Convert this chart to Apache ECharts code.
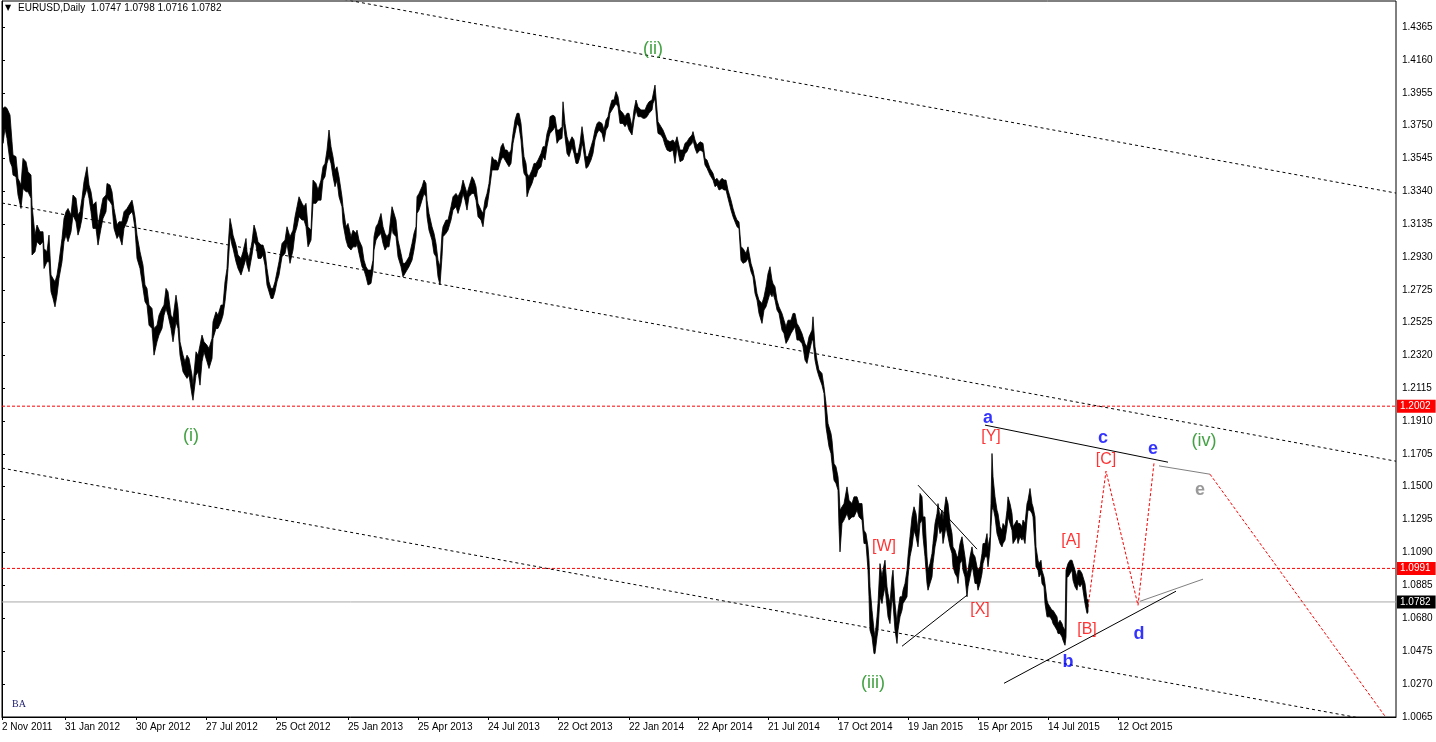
<!DOCTYPE html>
<html><head><meta charset="utf-8">
<script src="https://cdn.jsdelivr.net/npm/echarts@6/dist/echarts.min.js"></script>
<style>html,body{margin:0;padding:0;background:#fff}#c{width:1436px;height:742px}</style>
</head><body><div id="c"></div>
<script>
// ---------- header ----------
const symbolTitle = 'EURUSD,Daily';
const lastOHLC = ['1.0747', '1.0798', '1.0716', '1.0782'];

// ---------- axes ----------
// x = bar number counted from the first visible daily bar (2 Nov 2011)
const xTickIdx = [0, 63, 134, 204, 274, 346, 416, 486, 556, 627, 696, 766, 836, 906, 976, 1046, 1116];
const xTickLabels = ['2 Nov 2011', '31 Jan 2012', '30 Apr 2012', '27 Jul 2012', '25 Oct 2012', '25 Jan 2013',
  '25 Apr 2013', '24 Jul 2013', '22 Oct 2013', '22 Jan 2014', '22 Apr 2014', '21 Jul 2014', '17 Oct 2014',
  '19 Jan 2015', '15 Apr 2015', '14 Jul 2015', '12 Oct 2015'];
const yTickLabels = ['1.4365', '1.4160', '1.3955', '1.3750', '1.3545', '1.3340', '1.3135', '1.2930', '1.2725',
  '1.2525', '1.2320', '1.2115', '1.1910', '1.1705', '1.1500', '1.1295', '1.1090', '1.0885', '1.0680', '1.0475',
  '1.0270', '1.0065'];
const xMax = 1394;
const yMin = 1.0065, yMax = 1.4527;

// ---------- price bars [bar, high, low] ----------
const bars2011_2012 = [
[1,1.3858,1.3640],[3,1.3868,1.3733],[5,1.3858,1.3671],[8,1.3816,1.3525],[10,1.3650,1.3494],[11,1.3567,1.3442],
[14,1.3557,1.3432],[16,1.3422,1.3318],[19,1.3380,1.3234],[21,1.3546,1.3359],[24,1.3525,1.3338],[26,1.3463,1.3338],
[29,1.3442,1.3297],[30,1.3255,1.2944],[33,1.3068,1.2964],[35,1.3131,1.3027],[38,1.3089,1.3006],[41,1.3089,1.3027],
[42,1.2985,1.2860],[45,1.2964,1.2902],[47,1.3068,1.2902],[49,1.2819,1.2715],[51,1.2798,1.2673],[53,1.2777,1.2621],
[55,1.2819,1.2694],[57,1.2902,1.2798],[60,1.3047,1.2902],[62,1.3172,1.3027],[64,1.3214,1.3068],[66,1.3234,1.3027],
[69,1.3193,1.3089],[71,1.3318,1.3193],[74,1.3297,1.3151],[76,1.3193,1.3068],[78,1.3214,1.3110],[80,1.3297,1.3172],
[82,1.3401,1.3297],[85,1.3494,1.3359],[87,1.3380,1.3297],[89,1.3338,1.3214],[91,1.3255,1.3110],[94,1.3276,1.3110],
[96,1.3131,1.3006],[99,1.3234,1.3110],[101,1.3297,1.3172],[104,1.3318,1.3214],[105,1.3390,1.3297],[108,1.3380,1.3276],
[110,1.3338,1.3255],[112,1.3234,1.3110],[115,1.3131,1.3047],[117,1.3151,1.3068],[120,1.3151,1.3006],[122,1.3214,1.3110],
[125,1.3234,1.3151],[127,1.3255,1.3193],[130,1.3286,1.3214],[131,1.3255,1.3193],[133,1.3182,1.3110],[135,1.3068,1.2923],
[138,1.2964,1.2860],[141,1.2881,1.2736],[143,1.2757,1.2653],[145,1.2736,1.2632],[147,1.2632,1.2507],[150,1.2611,1.2486],
[152,1.2486,1.2320],[155,1.2507,1.2403],[157,1.2569,1.2445],[160,1.2611,1.2486],[162,1.2632,1.2569],[164,1.2736,1.2611],
[166,1.2715,1.2569],[169,1.2569,1.2486],[171,1.2549,1.2403],[174,1.2694,1.2528],[176,1.2611,1.2486],[178,1.2403,1.2320],
[181,1.2320,1.2216],[183,1.2279,1.2195],[185,1.2320,1.2175],[187,1.2299,1.2195],[190,1.2195,1.2071],[191,1.2133,1.2039],
[194,1.2341,1.2195],[196,1.2320,1.2216],[198,1.2382,1.2133],[200,1.2445,1.2279],[202,1.2403,1.2341],[205,1.2382,1.2279],
[207,1.2362,1.2237],[210,1.2424,1.2299],[211,1.2528,1.2424],[214,1.2590,1.2486],[216,1.2569,1.2486],[219,1.2632,1.2528],
[221,1.2632,1.2569],[223,1.2777,1.2653],[225,1.2860,1.2777],[226,1.2985,1.2860],[228,1.3172,1.3068],[230,1.3110,1.3006],
[231,1.3068,1.2985],[234,1.3006,1.2902],[236,1.2944,1.2860],[239,1.2923,1.2819],[241,1.2964,1.2860],[244,1.3047,1.2923],
[245,1.2964,1.2881],[247,1.2923,1.2840],[250,1.3027,1.2944],[252,1.3131,1.3027],[254,1.3089,1.3006],[256,1.3027,1.2923],
[259,1.3006,1.2923],[261,1.3006,1.2944],[263,1.2964,1.2881],[265,1.2860,1.2757],[267,1.2777,1.2715],[269,1.2736,1.2673],
[271,1.2736,1.2673],[273,1.2777,1.2715],[275,1.2840,1.2777],[277,1.2902,1.2819]
];
const bars2013 = [
[280,1.3016,1.2933],[283,1.3037,1.2954],[285,1.3120,1.3016],[288,1.3058,1.2892],[291,1.3099,1.2975],[293,1.3183,1.3079],
[295,1.3245,1.3120],[297,1.3307,1.3183],[300,1.3266,1.3162],[302,1.3245,1.3162],[304,1.3266,1.3120],[306,1.3120,1.2995],
[309,1.3099,1.3037],[311,1.3411,1.3266],[314,1.3390,1.3266],[316,1.3349,1.3286],[319,1.3411,1.3286],[321,1.3494,1.3411],
[323,1.3515,1.3432],[325,1.3598,1.3515],[327,1.3723,1.3557],[329,1.3619,1.3515],[331,1.3557,1.3432],[333,1.3474,1.3370],
[335,1.3494,1.3411],[337,1.3432,1.3307],[340,1.3307,1.3245],[341,1.3245,1.3141],[344,1.3120,1.3037],[346,1.3141,1.2995],
[349,1.3058,1.2975],[351,1.3099,1.2995],[354,1.3079,1.2995],[355,1.3099,1.3016],[357,1.3037,1.2954],[360,1.2995,1.2871],
[362,1.2912,1.2850],[364,1.2871,1.2808],[366,1.2850,1.2757],[369,1.2850,1.2767],[371,1.2912,1.2850],[372,1.3058,1.2975],
[374,1.3120,1.3037],[376,1.3141,1.3058],[379,1.3203,1.3079],[381,1.3120,1.3016],[383,1.3079,1.2975],[385,1.3058,1.2995],
[387,1.3079,1.2995],[390,1.3245,1.3120],[391,1.3224,1.3079],[394,1.3162,1.3058],[396,1.3037,1.2933],[399,1.2954,1.2871],
[401,1.2892,1.2808],[403,1.2892,1.2829],[405,1.2912,1.2850],[407,1.2933,1.2871],[410,1.3016,1.2912],[412,1.3079,1.2975],
[414,1.3120,1.3058],[415,1.3307,1.3203],[417,1.3328,1.3224],[420,1.3370,1.3286],[422,1.3411,1.3328],[424,1.3390,1.3307],
[425,1.3286,1.3183],[427,1.3203,1.3099],[430,1.3120,1.3037],[432,1.3079,1.2954],[434,1.3016,1.2933],[436,1.2912,1.2808],
[438,1.2871,1.2757],[440,1.3079,1.2933],[441,1.3120,1.3058],[444,1.3162,1.3079],[446,1.3162,1.3099],[449,1.3245,1.3162],
[451,1.3307,1.3224],[454,1.3328,1.3245],[456,1.3307,1.3203],[459,1.3349,1.3266],[461,1.3411,1.3328],[463,1.3370,1.3286],
[465,1.3328,1.3224],[467,1.3370,1.3307],[470,1.3432,1.3328],[472,1.3411,1.3328],[474,1.3370,1.3286],[476,1.3266,1.3183],
[479,1.3224,1.3162],[481,1.3203,1.3120],[483,1.3286,1.3224],[485,1.3328,1.3245],[487,1.3390,1.3328],[490,1.3557,1.3474],
[492,1.3536,1.3474],[494,1.3536,1.3474],[496,1.3515,1.3474],[499,1.3619,1.3536],[501,1.3640,1.3557],[503,1.3598,1.3536],
[505,1.3598,1.3515],[507,1.3577,1.3494],[509,1.3598,1.3515],[511,1.3702,1.3640],[513,1.3785,1.3702],[515,1.3827,1.3764],
[517,1.3827,1.3744],[519,1.3764,1.3661],[521,1.3619,1.3494],[522,1.3557,1.3453],[524,1.3515,1.3432],[525,1.3453,1.3307],
[527,1.3432,1.3349],[530,1.3474,1.3390],[532,1.3515,1.3432],[534,1.3515,1.3432],[536,1.3536,1.3474],[539,1.3577,1.3494],
[541,1.3619,1.3557],[543,1.3619,1.3536],[545,1.3702,1.3619],[547,1.3744,1.3681]
];
const bars2014 = [
[548,1.3806,1.3702],[551,1.3816,1.3723],[553,1.3806,1.3744],[555,1.3723,1.3640],[557,1.3723,1.3661],[560,1.3744,1.3671],
[561,1.3899,1.3785],[563,1.3764,1.3681],[565,1.3681,1.3577],[567,1.3640,1.3557],[570,1.3681,1.3619],[572,1.3661,1.3577],
[574,1.3577,1.3515],[576,1.3577,1.3515],[578,1.3640,1.3557],[580,1.3744,1.3640],[581,1.3702,1.3619],[584,1.3557,1.3484],
[586,1.3557,1.3494],[589,1.3619,1.3536],[591,1.3661,1.3577],[593,1.3723,1.3661],[595,1.3764,1.3702],[597,1.3775,1.3723],
[600,1.3764,1.3702],[602,1.3723,1.3650],[604,1.3785,1.3723],[606,1.3806,1.3744],[608,1.3868,1.3827],[610,1.3910,1.3848],
[612,1.3910,1.3868],[614,1.3962,1.3889],[616,1.3931,1.3868],[618,1.3848,1.3764],[621,1.3827,1.3764],[623,1.3806,1.3744],
[625,1.3827,1.3764],[627,1.3827,1.3723],[630,1.3744,1.3692],[632,1.3848,1.3785],[634,1.3910,1.3848],[636,1.3868,1.3806],
[639,1.3848,1.3806],[641,1.3848,1.3796],[643,1.3848,1.3796],[645,1.3879,1.3806],[647,1.3899,1.3827],[650,1.3910,1.3848],
[651,1.3941,1.3889],[653,1.4003,1.3920],[655,1.3848,1.3754],[656,1.3775,1.3702],[659,1.3744,1.3692],[661,1.3723,1.3671],
[663,1.3692,1.3629],[665,1.3661,1.3598],[668,1.3650,1.3588],[671,1.3661,1.3598],[673,1.3640,1.3515],[675,1.3681,1.3619],
[678,1.3598,1.3526],[681,1.3598,1.3536],[683,1.3640,1.3577],[685,1.3650,1.3588],[687,1.3671,1.3619],[690,1.3692,1.3640],
[691,1.3713,1.3661],[693,1.3661,1.3609],[695,1.3629,1.3577],[698,1.3650,1.3598],[701,1.3640,1.3588],[703,1.3546,1.3505],
[705,1.3536,1.3484],[708,1.3484,1.3442],[711,1.3453,1.3411],[713,1.3411,1.3370],[715,1.3422,1.3380],[717,1.3401,1.3349],
[720,1.3422,1.3359],[722,1.3411,1.3349],[724,1.3411,1.3349],[726,1.3349,1.3297],[729,1.3286,1.3224],[731,1.3235,1.3183],
[733,1.3193,1.3151],[735,1.3162,1.3120],[737,1.3151,1.3110],[739,1.2995,1.2912],[741,1.2985,1.2892],[744,1.2954,1.2902],
[746,1.2995,1.2923],[749,1.2892,1.2840],[751,1.2850,1.2808],[753,1.2788,1.2705],[755,1.2705,1.2663],[757,1.2663,1.2580],
[760,1.2642,1.2518],[762,1.2684,1.2601],[764,1.2746,1.2621],[766,1.2829,1.2663],[768,1.2871,1.2705],[770,1.2788,1.2684],
[771,1.2767,1.2705],[773,1.2746,1.2663],[775,1.2663,1.2601],[777,1.2621,1.2580],[780,1.2580,1.2476],[782,1.2538,1.2455],
[784,1.2497,1.2393],[786,1.2538,1.2414],[789,1.2538,1.2455],[791,1.2580,1.2476],[793,1.2580,1.2497],[795,1.2518,1.2414],
[797,1.2497,1.2414],[800,1.2455,1.2393],[801,1.2434,1.2372],[803,1.2393,1.2289],[805,1.2372,1.2268],[807,1.2434,1.2330],
[810,1.2476,1.2414],[811,1.2559,1.2414],[813,1.2372,1.2289],[815,1.2289,1.2227],[817,1.2227,1.2185],[820,1.2206,1.2133],
[822,1.2123,1.2081]
];
const bars2015 = [
[824,1.2019,1.1873],[826,1.1894,1.1790],[827,1.1873,1.1749],[829,1.1832,1.1707],[830,1.1790,1.1645],[832,1.1645,1.1541],
[834,1.1624,1.1520],[836,1.1562,1.1479],[837,1.1479,1.1250],[838,1.1354,1.1094],[840,1.1375,1.1271],[842,1.1395,1.1292],
[845,1.1499,1.1333],[847,1.1416,1.1292],[850,1.1395,1.1312],[852,1.1437,1.1312],[855,1.1437,1.1354],[857,1.1395,1.1312],
[860,1.1395,1.1292],[862,1.1229,1.1146],[864,1.1208,1.1146],[866,1.1125,1.0980],[867,1.1042,1.0814],[868,1.0876,1.0606],
[870,1.0730,1.0564],[872,1.0606,1.0460],[873,1.0564,1.0460],[875,1.0689,1.0564],[876,1.0772,1.0606],[878,1.1021,1.0814],
[880,1.0938,1.0772],[881,1.0980,1.0814],[883,1.1042,1.0876],[885,1.0876,1.0751],[886,1.0834,1.0689],[888,1.0772,1.0647],
[890,1.0938,1.0814],[891,1.0980,1.0772],[893,1.0772,1.0606],[895,1.0647,1.0523],[896,1.0730,1.0606],[898,1.0814,1.0689],
[900,1.0814,1.0730],[901,1.0855,1.0772],[903,1.0897,1.0793],[905,1.0980,1.0814],[906,1.1063,1.0938],[908,1.1188,1.1063],
[910,1.1312,1.1125],[912,1.1375,1.1229],[914,1.1333,1.1188],[916,1.1229,1.1125],[918,1.1458,1.1271],[920,1.1437,1.1292],
[921,1.1312,1.1188],[923,1.1312,1.1063],[925,1.1063,1.0897],[926,1.0980,1.0855],[928,1.1021,1.0897],[930,1.1084,1.0938],
[931,1.1146,1.1021],[933,1.1271,1.1125],[935,1.1333,1.1188],[936,1.1395,1.1271],[938,1.1312,1.1208],[940,1.1354,1.1229],
[941,1.1292,1.1146],[944,1.1437,1.1250],[946,1.1395,1.1188],[948,1.1271,1.1125],[950,1.1208,1.1084],[951,1.1125,1.1001],
[953,1.1105,1.0959],[955,1.1063,1.0938],[956,1.1063,1.0897],[958,1.1146,1.1021],[960,1.1188,1.1042],[961,1.1146,1.0980],
[963,1.1063,1.0938],[965,1.0959,1.0814],[966,1.0980,1.0876],[968,1.1063,1.0938],[970,1.1125,1.1001],[971,1.1084,1.0980],
[973,1.1063,1.0897],[975,1.1001,1.0897],[976,1.0980,1.0855],[978,1.1001,1.0897],[980,1.1084,1.0959],[981,1.1146,1.1021],
[983,1.1146,1.1063],[985,1.1208,1.1063],[986,1.1125,1.1001],[988,1.1188,1.1105],[989,1.1395,1.1250],[990,1.1707,1.1354],
[991,1.1562,1.1375],[993,1.1437,1.1312],[995,1.1354,1.1208],[996,1.1333,1.1188],[998,1.1250,1.1146],[1000,1.1229,1.1125],
[1001,1.1271,1.1146],[1003,1.1250,1.1167],[1005,1.1354,1.1250],[1006,1.1437,1.1312],[1008,1.1395,1.1271],[1010,1.1333,1.1229],
[1011,1.1250,1.1146],[1013,1.1271,1.1167],[1015,1.1292,1.1188],[1016,1.1271,1.1146],[1018,1.1271,1.1188],[1020,1.1250,1.1167],
[1021,1.1292,1.1188],[1023,1.1271,1.1146],[1025,1.1395,1.1292],[1026,1.1416,1.1354],[1028,1.1489,1.1354],[1030,1.1395,1.1333],
[1031,1.1375,1.1312],[1033,1.1312,1.1125],[1034,1.1125,1.1001],[1036,1.1042,1.0980],[1037,1.1021,1.0938],[1039,1.1042,1.0959],
[1040,1.0980,1.0897],[1042,1.0938,1.0876],[1043,1.0897,1.0772],[1045,1.0793,1.0689],[1046,1.0772,1.0689],[1048,1.0751,1.0689],
[1050,1.0730,1.0668],[1051,1.0730,1.0647],[1053,1.0710,1.0627],[1055,1.0689,1.0606],[1056,1.0647,1.0585],[1058,1.0668,1.0585],
[1060,1.0647,1.0564],[1061,1.0627,1.0543],[1063,1.0606,1.0512],[1064,1.0980,1.0564],[1065,1.1001,1.0938],[1066,1.1021,1.0938],
[1068,1.1042,1.0959],[1070,1.1042,1.0980],[1071,1.1021,1.0917],[1073,1.0980,1.0876],[1075,1.0938,1.0855],[1076,1.0980,1.0897],
[1078,1.0980,1.0876],[1080,1.0959,1.0897],[1081,1.0938,1.0855],[1083,1.0897,1.0772],[1085,1.0793,1.0710],[1086,1.0798,1.0716]
];

// ---------- price levels ----------
const redLevels = [1.2002, 1.0991];
const bidLevel = 1.0782;

// ---------- channel (dotted) lines: [[bar, price], [bar, price]] ----------
const channelLines = [
  [[0, 1.4929], [1394, 1.3330]],
  [[0, 1.3268], [1394, 1.1659]],
  [[0, 1.1616], [1394, 1.0017]]
];
// ---------- solid trend lines ----------
const blackTrendLines = [
  [[983, 1.1884], [1166, 1.1653]],
  [[1002, 1.0275], [1174, 1.0849]],
  [[916, 1.1510], [975, 1.1111]],
  [[900, 1.0506], [965, 1.0824]]
];
const grayTrendLines = [
  [[1157, 1.1630], [1208, 1.1578]],
  [[1138, 1.0786], [1201, 1.0924]]
];
// ---------- projected path (red dotted) ----------
const projectionA = [[1086, 1.0749], [1104, 1.1597], [1136, 1.0761], [1152, 1.1647]];
const projectionB = [[1208, 1.1578], [1383, 1.0070]];

// ---------- wave labels [text, bar, price] ----------
const greenLabels = [['(i)', 189, 1.1815], ['(ii)', 651, 1.4228], ['(iii)', 871, 1.0275], ['(iv)', 1202, 1.1784]];
const blueLabels = [['a', 986, 1.1927], ['b', 1066, 1.0406], ['c', 1101, 1.1803], ['d', 1137, 1.0581], ['e', 1151, 1.1734]];
const redLabels = [['[W]', 882, 1.1129], ['[X]', 978, 1.0737], ['[Y]', 989, 1.1815], ['[A]', 1069, 1.1167],
  ['[B]', 1085, 1.0612], ['[C]', 1104, 1.1666]];
const grayLabels = [['e', 1198, 1.1479]];

// ================= chart =================
const FONT = 'Liberation Sans';
const allBars = [].concat(bars2011_2012, bars2013, bars2014, bars2015);
const chart = echarts.init(document.getElementById('c'), null, {renderer: 'canvas'});

function segSeries(seg, color, type, width) {
  return {
    type: 'line', data: seg, symbol: 'none', silent: true, animation: false, clip: true,
    lineStyle: {color: color, width: width || 1, type: type}, z: 3
  };
}
function labelSeries(list, color, size, weight) {
  return {
    type: 'scatter', silent: true, symbolSize: 1, itemStyle: {color: 'rgba(0,0,0,0)'}, z: 6,
    data: list.map(l => ({name: l[0], value: [l[1], l[2]]})),
    label: {show: true, position: 'inside', formatter: '{b}', color: color, fontSize: size,
      fontFamily: FONT, fontWeight: weight || 'normal'}
  };
}

const series = [];
// price bars drawn as a filled high-low band
series.push({
  type: 'custom', silent: true, z: 4, clip: true,
  data: [[0, yMin]],
  renderItem: function (params, api) {
    const up = allBars.map(b => api.coord([b[0], b[1]]));
    const dn = allBars.map(b => api.coord([b[0], b[2]])).reverse();
    return {type: 'polygon', shape: {points: up.concat(dn)},
      style: {fill: '#000', stroke: '#000', lineWidth: 0.8}};
  }
});
channelLines.forEach(s => series.push(segSeries(s, '#000', [3, 3], 1)));
blackTrendLines.forEach(s => series.push(segSeries(s, '#000', 'solid', 1)));
grayTrendLines.forEach(s => series.push(segSeries(s, '#808080', 'solid', 1)));
series.push(segSeries(projectionA, '#ff0000', [3, 2], 1));
series.push(segSeries(projectionB, '#ff0000', [3, 2], 1));
redLevels.forEach(v => {
  const s = segSeries([[0, v], [xMax, v]], '#ff0000', [3, 2], 1);
  s.endLabel = {show: true, formatter: v.toFixed(4), color: '#fff', backgroundColor: '#ff0000',
    fontSize: 10, fontFamily: FONT, padding: [2, 5, 1, 3], distance: 1};
  s.z = 2;
  series.push(s);
});
(function () {
  const s = segSeries([[0, bidLevel], [xMax, bidLevel]], '#a8a8a8', 'solid', 1);
  s.endLabel = {show: true, formatter: bidLevel.toFixed(4), color: '#fff', backgroundColor: '#000',
    fontSize: 10, fontFamily: FONT, padding: [2, 5, 1, 3], distance: 1};
  s.z = 2;
  series.push(s);
})();
series.push(labelSeries(greenLabels, '#138a13', 18));
series.push(labelSeries(blueLabels, '#0000ff', 18, 'bold'));
series.push(labelSeries(redLabels, '#ff0000', 16));
series.push(labelSeries(grayLabels, '#808080', 18, 'bold'));

const option = {
  animation: false,
  backgroundColor: '#fff',
  grid: {left: 2, right: 40, top: 1, bottom: 25, containLabel: false, outerBoundsMode: 'none',
    show: true, borderColor: '#000', borderWidth: 1, backgroundColor: 'transparent'},
  xAxis: {
    type: 'value', min: 0, max: xMax, splitLine: {show: false},
    axisLine: {show: true, lineStyle: {color: '#000', width: 1}},
    axisTick: {show: true, customValues: xTickIdx, length: 3, lineStyle: {color: '#000'}},
    axisLabel: {show: true, customValues: xTickIdx, align: 'left', margin: 5, color: '#000',
      fontSize: 10, fontFamily: FONT, hideOverlap: false, showMinLabel: true, showMaxLabel: true,
      formatter: v => { const i = xTickIdx.indexOf(Math.round(v)); return i >= 0 ? xTickLabels[i] : ''; }}
  },
  yAxis: {
    type: 'value', position: 'right', min: yMin, max: yMax, scale: true, splitLine: {show: false},
    axisLine: {show: true, lineStyle: {color: '#000', width: 1}},
    axisTick: {show: true, inside: false, length: 3, customValues: yTickLabels.map(Number), lineStyle: {color: '#000'}},
    axisLabel: {show: true, customValues: yTickLabels.map(Number), margin: 6, color: '#000', fontSize: 10,
      fontFamily: FONT, hideOverlap: false, showMinLabel: true, showMaxLabel: true,
      formatter: v => v.toFixed(4)}
  },
  graphic: [
    {type: 'text', left: 5, top: 4, style: {text: '▼', font: '8px "DejaVu Sans"', fill: '#000'}},
    {type: 'text', left: 18, top: 3, style: {text: symbolTitle + '  ' + lastOHLC.join(' '),
      font: '10px "Liberation Sans"', fill: '#000'}},
    {type: 'text', left: 12, top: 699, style: {text: 'BA', font: '10px "Liberation Serif"', fill: '#1a1a6e'}}
  ],
  series: series
};
chart.setOption(option);
</script>
</body></html>
